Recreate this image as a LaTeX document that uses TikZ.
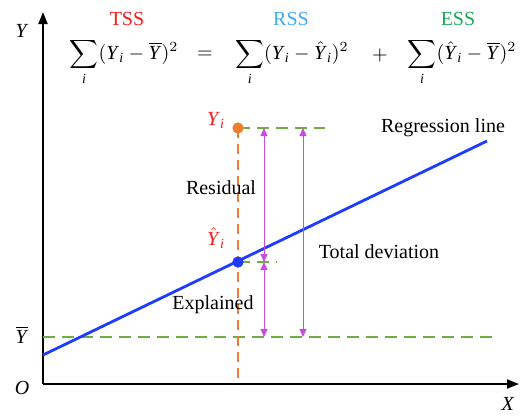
\documentclass[tikz,border=0pt]{standalone}
\usepackage{amsmath}
\usepackage{fontspec}
\setmainfont{Liberation Serif}
\usetikzlibrary{arrows.meta,positioning}
\definecolor{tssred}{HTML}{FF1A1A}
\definecolor{rssblue}{HTML}{3FA9F5}
\definecolor{essgreen}{HTML}{1AAA55}
\definecolor{meangreen}{HTML}{70AD47}
\definecolor{pointorange}{HTML}{ED7D31}
\definecolor{fitblue}{HTML}{1F3BFF}
\definecolor{devpurple}{HTML}{C94BE0}
\newcommand{\vY}{\text{\itshape Y\/}}
\newcommand{\vi}{\text{\itshape i}}

\tikzset{
  axis/.style={line width=0.9pt, -{Triangle[length=6pt,width=4.5pt]}},
  meanline/.style={meangreen, line width=1.2pt, dash pattern=on 6pt off 3.5pt},
  dropline/.style={pointorange, line width=1.2pt, dash pattern=on 5pt off 3pt},
  devarrow/.style={devpurple, line width=0.5pt, {Triangle[length=4pt,width=3.5pt]}-{Triangle[length=4pt,width=3.5pt]}},
  dot/.style={circle, inner sep=0pt, minimum size=5.5pt},
  lbl/.style={font=\fontsize{10}{12}\selectfont, inner sep=0.5pt},
}

\begin{document}
\begin{tikzpicture}[x=0.5pt, y=-0.5pt]
    \useasboundingbox (0,0) rectangle (531,419);

    % axes
    \coordinate (origin) at (43,384);
    \coordinate (ytop) at (43,12);
    \coordinate (xend) at (519,384);
    \draw[axis] (origin) -- (ytop);
    \draw[axis] (origin) -- (xend);
    \node[lbl] (ylab) at (22,31) {\textit{Y}};
    \node[lbl] (olab) at (22,388) {\textit{O}};
    \node[lbl] (xlab) at (508,404) {\textit{X}};
    \node[lbl] (ybarlab) at (22,335) {$\overline{\vY}$};

    % mean level and points
    \coordinate (mean0) at (43,337);
    \coordinate (mean1) at (497,337);
    \draw[meanline] (mean0) -- (mean1);

    \coordinate (fit0) at (43,355);
    \coordinate (fit1) at (487,141);
    \coordinate (foot) at (238,379);
    \coordinate (yiend) at (325,128);
    \coordinate (yhatend) at (277,262);
    \node[dot, fill=pointorange] (yi) at (238,128) {};
    \node[dot, fill=fitblue] (yhat) at (238,262) {};

    \draw[dropline] (yi.center) -- (foot);
    \draw[meanline] (yi.center) -- (yiend);
    \draw[meanline] (yhat.center) -- (yhatend);
    \draw[fitblue, line width=1.4pt] (fit0) -- (fit1);
    \node[dot, fill=pointorange] at (yi) {};
    \node[dot, fill=fitblue] at (yhat) {};

    % deviations
    \coordinate (ra) at (264,128);
    \coordinate (rb) at (264,262);
    \coordinate (rc) at (264,337);
    \coordinate (ta) at (303,128);
    \coordinate (tb) at (303,337);
    \draw[devarrow] (ra) -- (rb);
    \draw[devarrow] (rb) -- (rc);
    \draw[devarrow] (ta) -- (tb);

    \node[lbl, text=tssred] (yilab) at (216,120) {$\vY_{\vi}$};
    \node[lbl, text=tssred] (yhatlab) at (216,238) {$\hat{\vY}_{\vi}$};
    \node[lbl] (resid) at (221,188) {Residual};
    \node[lbl] (expl) at (213,305) {Explained};
    \node[lbl] (total) at (379,252) {Total deviation};
    \node[lbl] (regl) at (443,128) {Regression line};

    % decomposition
    \node[lbl, text=tssred] (tss) at (127,19) {TSS};
    \node[lbl, text=rssblue] (rss) at (291,19) {RSS};
    \node[lbl, text=essgreen] (ess) at (458,19) {ESS};
    \node[lbl] (sumt) at (124,62) {$\displaystyle\sum_{\vi} (\vY_{\vi}-\overline{\vY})^2$};
    \node[lbl] (eq) at (205,55) {$=$};
    \node[lbl] (sumr) at (292,62) {$\displaystyle\sum_{\vi} (\vY_{\vi}-\hat{\vY}_{\vi})^2$};
    \node[lbl] (plus) at (380,55) {$+$};
    \node[lbl] (sume) at (462,62) {$\displaystyle\sum_{\vi} (\hat{\vY}_{\vi}-\overline{\vY})^2$};
\end{tikzpicture}
\end{document}
